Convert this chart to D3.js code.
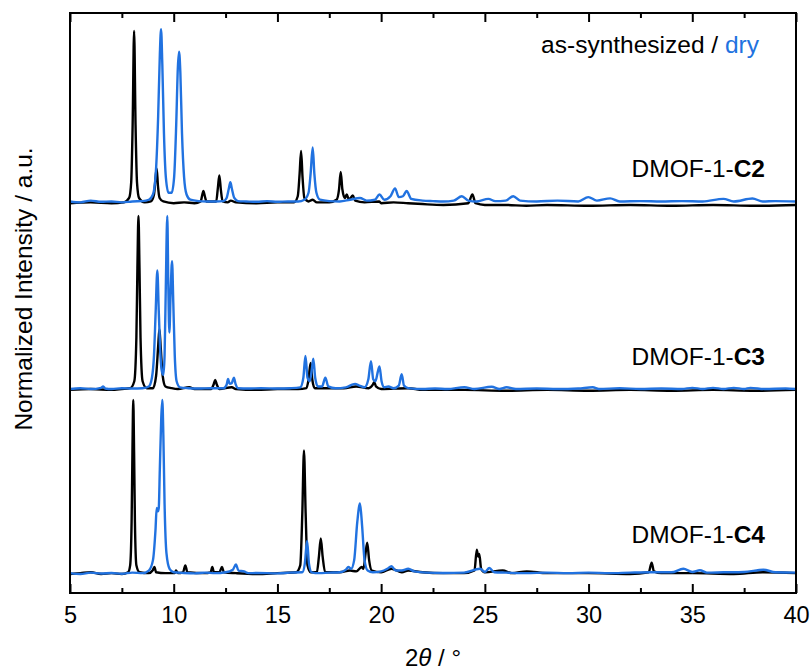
<!DOCTYPE html>
<html>
<head>
<meta charset="utf-8">
<script src="https://cdn.jsdelivr.net/npm/d3@7"></script>
<style>
  html, body { margin: 0; padding: 0; background: #fff; }
  svg { display: block; }
  text { font-family: "Liberation Sans", Arial, sans-serif; }
</style>
</head>
<body>
<div id="chart"></div>
<script>
// ---------- DATA (2θ in degrees, normalized intensity) ----------
const samples = ["C2", "C3", "C4"];
const seriesNames = ["as-synthesized", "dry"];
const xMajorTicks = [5, 10, 15, 20, 25, 30, 35, 40];
const xMinorTicks = [7.5, 12.5, 17.5, 22.5, 27.5, 32.5, 37.5];

const c2AsSynth = [[5,0],[6,0.005],[7,0],[7.6,0.005],[7.85,0.03],[7.95,0.12],[8.02,0.45],[8.09,0.99],[8.16,0.45],[8.23,0.12],[8.33,0.03],[8.6,0.005],[8.9,0.01],[9.05,0.05],[9.12,0.14],[9.18,0.2],[9.24,0.1],[9.32,0.03],[9.5,0.01],[10,0],[10.5,0.005],[11,0],[11.3,0.01],[11.38,0.05],[11.43,0.07],[11.5,0.04],[11.58,0.01],[12.05,0.01],[12.13,0.09],[12.2,0.16],[12.27,0.08],[12.36,0.01],[12.6,0.005],[12.75,0.015],[13,0.005],[14,0],[15,0.005],[15.8,0.005],[15.98,0.04],[16.07,0.17],[16.14,0.30],[16.21,0.15],[16.3,0.03],[16.5,0.01],[16.7,0.02],[16.9,0.005],[17.5,0.005],[17.85,0.02],[17.97,0.08],[18.05,0.18],[18.13,0.08],[18.25,0.03],[18.34,0.05],[18.45,0.02],[18.63,0.045],[18.75,0.015],[19.2,0.005],[19.9,0.01],[20.0,0],[20.6,0.005],[21.3,0],[22,-0.005],[23,-0.01],[24.2,0],[24.4,0.05],[24.55,0],[25,-0.01],[26,-0.01],[27,-0.015],[28,-0.01],[30,-0.015],[32,-0.01],[34,-0.015],[36,-0.01],[38,-0.015],[40,-0.01]];
const c2Dry = [[5,0.01],[5.5,0.005],[6,0.015],[6.5,0.008],[7,0.01],[7.5,0.005],[8,0.01],[8.5,0.012],[8.8,0.02],[9.0,0.05],[9.15,0.2],[9.25,0.5],[9.33,0.85],[9.39,1.0],[9.45,0.8],[9.53,0.4],[9.62,0.15],[9.75,0.06],[9.9,0.06],[10.02,0.15],[10.12,0.45],[10.2,0.78],[10.26,0.87],[10.32,0.75],[10.4,0.4],[10.5,0.15],[10.62,0.05],[10.8,0.02],[11.2,0.012],[11.6,0.01],[12.0,0.01],[12.4,0.012],[12.55,0.03],[12.65,0.08],[12.73,0.12],[12.81,0.08],[12.92,0.03],[13.1,0.012],[13.5,0.01],[14,0.008],[14.5,0.012],[15,0.008],[15.5,0.01],[16.0,0.01],[16.3,0.02],[16.5,0.06],[16.6,0.17],[16.7,0.32],[16.78,0.17],[16.88,0.06],[17.05,0.02],[17.5,0.012],[18,0.01],[18.5,0.02],[18.98,0.03],[19.3,0.015],[19.7,0.02],[19.92,0.05],[20.15,0.02],[20.45,0.04],[20.67,0.085],[20.85,0.035],[21.05,0.04],[21.23,0.07],[21.45,0.025],[22,0.015],[22.5,0.012],[23,0.01],[23.5,0.015],[23.89,0.04],[24.2,0.015],[24.6,0.01],[25.17,0.025],[25.5,0.012],[26,0.015],[26.37,0.04],[26.7,0.015],[27.5,0.01],[28.5,0.015],[29.5,0.01],[29.99,0.035],[30.4,0.015],[31.04,0.028],[31.5,0.01],[32.5,0.012],[33.5,0.01],[34.5,0.012],[35.5,0.01],[36.5,0.025],[37,0.01],[37.9,0.027],[38.4,0.01],[39,0.012],[40,0.01]];

const c3AsSynth = [[5,0],[6,0.005],[7,0],[7.5,0.005],[7.9,0.01],[8.1,0.05],[8.2,0.3],[8.25,0.7],[8.30,1.0],[8.35,0.7],[8.40,0.3],[8.5,0.05],[8.7,0.01],[9.0,0.01],[9.15,0.08],[9.25,0.25],[9.31,0.35],[9.37,0.25],[9.47,0.08],[9.6,0.02],[9.9,0.01],[10.2,0.005],[10.75,0.015],[11,0.005],[11.8,0.005],[11.92,0.03],[12.0,0.057],[12.08,0.03],[12.2,0.005],[12.8,0.015],[13,0.005],[14,0],[15,0.005],[16,0.005],[16.4,0.01],[16.5,0.06],[16.6,0.155],[16.68,0.06],[16.8,0.01],[17.3,0.01],[18.2,0.01],[18.8,0.02],[19.4,0.01],[19.6,0.03],[19.67,0.045],[19.75,0.02],[20,0.005],[21.3,0.01],[22,0],[24,0],[26,-0.005],[28,0],[30,-0.005],[32,0],[34,-0.005],[36,0],[38,-0.005],[40,0]];
const c3Dry = [[5,0.005],[5.5,0.01],[6,0.005],[6.5,0.012],[6.6,0.02],[6.7,0.008],[7,0.005],[7.5,0.01],[8,0.008],[8.5,0.01],[8.8,0.02],[8.95,0.07],[9.05,0.2],[9.13,0.45],[9.21,0.686],[9.28,0.45],[9.36,0.2],[9.44,0.1],[9.50,0.086],[9.56,0.2],[9.62,0.6],[9.69,1.0],[9.74,0.6],[9.79,0.33],[9.85,0.55],[9.92,0.74],[9.98,0.5],[10.05,0.2],[10.14,0.05],[10.3,0.015],[10.7,0.01],[11.2,0.008],[11.8,0.01],[12.4,0.01],[12.55,0.03],[12.62,0.063],[12.7,0.035],[12.8,0.04],[12.9,0.07],[12.98,0.035],[13.1,0.01],[13.6,0.008],[14.2,0.01],[15,0.008],[15.6,0.01],[16.1,0.015],[16.25,0.07],[16.35,0.195],[16.45,0.07],[16.56,0.05],[16.66,0.12],[16.73,0.18],[16.82,0.07],[16.95,0.02],[17.15,0.02],[17.31,0.07],[17.45,0.02],[17.8,0.01],[18.3,0.015],[18.6,0.03],[18.74,0.035],[18.95,0.025],[19.2,0.015],[19.38,0.06],[19.51,0.165],[19.62,0.06],[19.72,0.05],[19.85,0.11],[19.92,0.135],[20.02,0.05],[20.15,0.015],[20.35,0.02],[20.6,0.01],[20.85,0.025],[20.99,0.09],[21.1,0.025],[21.3,0.01],[22,0.005],[22.6,0.008],[23.2,0.005],[24.01,0.015],[24.5,0.005],[25.33,0.018],[25.7,0.005],[26.05,0.015],[26.5,0.005],[27.5,0.008],[28.5,0.005],[29.5,0.008],[30.2,0.015],[30.5,0.005],[31.5,0.01],[32.5,0.005],[33.5,0.008],[34.5,0.005],[35.0,0.012],[35.5,0.005],[36.0,0.012],[36.5,0.005],[37.0,0.012],[37.5,0.005],[37.8,0.012],[38.5,0.005],[39.5,0.008],[40,0.005]];

const c4AsSynth = [[5,0],[5.5,0.005],[6,0.01],[6.5,0],[7,0.005],[7.5,0],[7.8,0.01],[7.9,0.05],[7.97,0.3],[8.01,0.7],[8.05,1.0],[8.09,0.7],[8.13,0.3],[8.2,0.05],[8.35,0.01],[8.8,0.005],[8.98,0.02],[9.07,0.04],[9.15,0.01],[9.6,0.005],[10.05,0.005],[10.11,0.02],[10.2,0.005],[10.45,0.01],[10.56,0.05],[10.66,0.01],[11.5,0.005],[11.78,0.01],[11.86,0.04],[11.94,0.01],[12.2,0.01],[12.33,0.04],[12.42,0.01],[13,0.005],[14,0],[15,0.005],[15.9,0.01],[16.1,0.05],[16.2,0.35],[16.28,0.71],[16.36,0.35],[16.45,0.05],[16.6,0.01],[16.9,0.01],[17.0,0.1],[17.09,0.205],[17.18,0.1],[17.3,0.01],[18,0.01],[18.5,0.02],[18.8,0.015],[19.06,0.04],[19.15,0.03],[19.25,0.12],[19.33,0.18],[19.42,0.08],[19.55,0.02],[20,0.01],[20.5,0.03],[21,0.01],[21.3,0.02],[22,0.01],[23,0.005],[24,0.005],[24.5,0.02],[24.61,0.14],[24.68,0.1],[24.73,0.115],[24.82,0.03],[25,0.01],[25.86,0.02],[26.3,0.005],[27.02,0.015],[28,0.005],[30,0.005],[32,0],[32.9,0.01],[33.04,0.065],[33.15,0.015],[33.5,0.005],[35,0.005],[37,0],[38.4,0.01],[40,0.005]];
const c4Dry = [[5,0.005],[5.5,0],[6,0.008],[6.5,0.003],[7,0.006],[7.5,0.002],[8,0.008],[8.5,0.005],[8.8,0.02],[9.0,0.08],[9.12,0.25],[9.18,0.38],[9.24,0.36],[9.28,0.38],[9.33,0.6],[9.40,0.9],[9.45,1.0],[9.50,0.8],[9.56,0.4],[9.65,0.12],[9.8,0.03],[10,0.01],[10.5,0.006],[11,0.004],[11.5,0.008],[12,0.005],[12.5,0.01],[12.85,0.025],[13.0,0.055],[13.12,0.02],[13.39,0.015],[13.6,0.005],[14,0.006],[15,0.004],[15.6,0.008],[16.2,0.01],[16.32,0.06],[16.43,0.19],[16.52,0.06],[16.65,0.01],[17.0,0.005],[17.5,0.008],[18.0,0.01],[18.3,0.025],[18.42,0.04],[18.55,0.03],[18.7,0.08],[18.85,0.3],[18.98,0.405],[19.08,0.28],[19.2,0.08],[19.35,0.02],[19.6,0.01],[20.0,0.015],[20.3,0.03],[20.5,0.045],[20.7,0.02],[21.0,0.02],[21.31,0.03],[21.6,0.015],[22.2,0.008],[23,0.006],[24,0.008],[24.77,0.03],[25.0,0.012],[25.22,0.035],[25.45,0.01],[26,0.008],[27,0.005],[28,0.008],[29,0.005],[30,0.008],[31,0.005],[32,0.008],[33,0.01],[34,0.01],[34.57,0.03],[35,0.012],[35.37,0.022],[35.7,0.008],[36.5,0.01],[37.5,0.012],[38.43,0.025],[39,0.01],[40,0.008]];

// ---------- LAYOUT ----------
const W = 810, H = 670;
const margin = { left: 70, right: 14, top: 13, bottom: 77 };
const innerW = W - margin.left - margin.right;   // 726
const innerH = H - margin.top - margin.bottom;   // 580
const stackOffsets = { C2: 2.24, C3: 1.167, C4: 0.109 };
const colors = { "as-synthesized": "#000000", "dry": "#2172e0" };

const patterns = [
  { sample: "C2", series: "as-synthesized", data: c2AsSynth },
  { sample: "C3", series: "as-synthesized", data: c3AsSynth },
  { sample: "C4", series: "as-synthesized", data: c4AsSynth },
  { sample: "C2", series: "dry", data: c2Dry },
  { sample: "C3", series: "dry", data: c3Dry },
  { sample: "C4", series: "dry", data: c4Dry }
];

const svg = d3.select("#chart").append("svg")
  .attr("width", W).attr("height", H);

const g = svg.append("g").attr("transform", `translate(${margin.left},${margin.top})`);

const x = d3.scaleLinear().domain([5, 40]).range([0, innerW]);
const y = d3.scaleLinear().domain([0, 3.333]).range([innerH, 0]);

svg.append("defs").append("clipPath").attr("id", "clip")
  .append("rect").attr("x", 0).attr("y", 0).attr("width", innerW).attr("height", innerH);

const plot = g.append("g").attr("clip-path", "url(#clip)");

patterns.forEach(p => {
  const off = stackOffsets[p.sample];
  const line = d3.line()
    .x(d => x(d[0]))
    .y(d => y(d[1] + off))
    .curve(d3.curveMonotoneX);
  plot.append("path")
    .datum(p.data)
    .attr("fill", "none")
    .attr("stroke", colors[p.series])
    .attr("stroke-width", 2.4)
    .attr("stroke-linejoin", "round")
    .attr("d", line);
});

// ---------- AXES ----------
const fmt = d3.format("d");
const xAxisB = g.append("g").attr("transform", `translate(0,${innerH})`)
  .call(d3.axisBottom(x).tickValues(xMajorTicks).tickSize(-9).tickPadding(13).tickFormat(fmt));
const xAxisBm = g.append("g").attr("transform", `translate(0,${innerH})`)
  .call(d3.axisBottom(x).tickValues(xMinorTicks).tickSize(-5).tickFormat(""));
const xAxisT = g.append("g")
  .call(d3.axisTop(x).tickValues(xMajorTicks).tickSize(-9).tickFormat(""));
const xAxisTm = g.append("g")
  .call(d3.axisTop(x).tickValues(xMinorTicks).tickSize(-5).tickFormat(""));

[xAxisB, xAxisBm, xAxisT, xAxisTm].forEach(a => {
  a.select(".domain").remove();
  a.selectAll(".tick line").attr("stroke", "#000").attr("stroke-width", 2);
});
xAxisB.selectAll(".tick text")
  .attr("fill", "#000")
  .style("font-size", "23.5px")
  .style("font-family", "'Liberation Sans', Arial, sans-serif");

// frame
g.append("rect")
  .attr("x", 0).attr("y", 0).attr("width", innerW).attr("height", innerH)
  .attr("fill", "none").attr("stroke", "#000").attr("stroke-width", 2);

// ---------- LABELS ----------
const xLab = svg.append("text")
  .attr("x", margin.left + innerW / 2).attr("y", 666)
  .attr("text-anchor", "middle")
  .style("font-size", "24px").attr("fill", "#000");
xLab.append("tspan").text("2");
xLab.append("tspan").style("font-style", "italic").text("θ");
xLab.append("tspan").text(" / °");

svg.append("text")
  .attr("transform", `translate(32,289) rotate(-90)`)
  .attr("text-anchor", "middle")
  .style("font-size", "24.5px").attr("fill", "#000")
  .text("Normalized Intensity / a.u.");

const leg = svg.append("text")
  .attr("x", 759).attr("y", 53)
  .attr("text-anchor", "end")
  .style("font-size", "24.5px");
leg.append("tspan").attr("fill", colors["as-synthesized"]).text("as-synthesized / ");
leg.append("tspan").attr("fill", colors["dry"]).text("dry");

const labelBaselines = { C2: 176.5, C3: 365, C4: 542.5 };
samples.forEach(s => {
  const t = svg.append("text")
    .attr("x", 765).attr("y", labelBaselines[s])
    .attr("text-anchor", "end")
    .style("font-size", "24.5px").attr("fill", "#000");
  t.append("tspan").text("DMOF-1-");
  t.append("tspan").style("font-weight", "bold").text(s);
});
</script>
</body>
</html>
